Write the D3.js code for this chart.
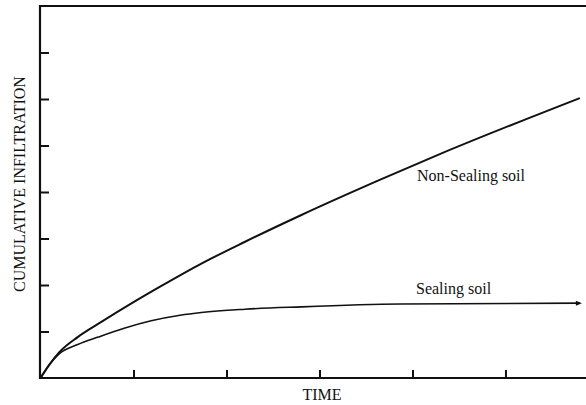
<!DOCTYPE html>
<html>
<head>
<meta charset="utf-8">
<script src="https://cdn.jsdelivr.net/npm/d3@7"></script>
<style>
  body { margin: 0; background: #fff; }
  text { font-family: "Liberation Serif", "Times New Roman", serif; fill: #111; }
</style>
</head>
<body>
<svg id="chart" width="586" height="405"></svg>
<script>
// values (time units / infiltration units)
var nonSealTime = [0, 0.1, 0.2, 0.4, 0.65, 1.0, 1.3, 1.73, 2.2, 2.8, 3.66, 4.3, 5.8];
var nonSealInf  = [0, 0.3, 0.55, 0.88, 1.2, 1.63, 1.98, 2.46, 2.93, 3.5, 4.27, 4.82, 6.02];
var sealTime = [0, 0.1, 0.2, 0.4, 0.62, 0.9, 1.19, 1.5, 1.73, 2.2, 2.8, 3.87, 5.8];
var sealInf  = [0, 0.3, 0.52, 0.72, 0.88, 1.07, 1.23, 1.35, 1.41, 1.48, 1.53, 1.59, 1.61];
var xTicks = [1, 2, 3, 4, 5];
var yTicks = [1, 2, 3, 4, 5, 6, 7];

const svg = d3.select('#chart');
var x = d3.scaleLinear().domain([0, 5.866]).range([40.5, 586]);
var y = d3.scaleLinear().domain([0, 8]).range([378, 6]);

// frame: left, top, bottom
svg.append('line').attr('x1', 40).attr('x2', 40).attr('y1', 5).attr('y2', 379)
  .attr('stroke', '#111').attr('stroke-width', 2.2);
svg.append('line').attr('x1', 39).attr('x2', 586).attr('y1', y(8)).attr('y2', y(8))
  .attr('stroke', '#111').attr('stroke-width', 2);
svg.append('line').attr('x1', 39).attr('x2', 586).attr('y1', y(0)).attr('y2', y(0))
  .attr('stroke', '#111').attr('stroke-width', 2);

// inward ticks
var yAxis = d3.axisRight(y).tickValues(yTicks).tickSize(9).tickFormat('');
var gy = svg.append('g').attr('transform', 'translate(40,0)').call(yAxis);
gy.select('.domain').remove();
gy.selectAll('line').attr('stroke', '#111').attr('stroke-width', 2);

var xAxis = d3.axisTop(x).tickValues(xTicks).tickSize(8).tickFormat('');
var gx = svg.append('g').attr('transform', 'translate(0,' + y(0) + ')').call(xAxis);
gx.select('.domain').remove();
gx.selectAll('line').attr('stroke', '#111').attr('stroke-width', 2);

var line = d3.line().x(d => x(d[0])).y(d => y(d[1])).curve(d3.curveMonotoneX);

svg.append('path').datum(d3.zip(nonSealTime, nonSealInf))
  .attr('d', line).attr('fill', 'none').attr('stroke', '#111').attr('stroke-width', 2);

svg.append('path').datum(d3.zip(sealTime, sealInf))
  .attr('d', line).attr('fill', 'none').attr('stroke', '#111').attr('stroke-width', 1.6);

// little arrow head at the end of sealing curve
var ex = x(sealTime[sealTime.length - 1]), ey = y(sealInf[sealInf.length - 1]);
svg.append('path')
  .attr('d', 'M' + (ex - 4) + ',' + (ey - 2.5) + 'L' + (ex + 2) + ',' + ey + 'L' + (ex - 4) + ',' + (ey + 2.5) + 'Z')
  .attr('fill', '#111');

// labels
svg.append('text').attr('x', 417).attr('y', 181).attr('font-size', 16).text('Non-Sealing soil');
svg.append('text').attr('x', 416).attr('y', 294).attr('font-size', 16).text('Sealing soil');
svg.append('text').attr('x', 322).attr('y', 400).attr('text-anchor', 'middle')
  .attr('font-size', 16).text('TIME');
svg.append('text').attr('transform', 'translate(25,184) rotate(-90)')
  .attr('text-anchor', 'middle').attr('font-size', 16).text('CUMULATIVE INFILTRATION');
</script>
</body>
</html>
